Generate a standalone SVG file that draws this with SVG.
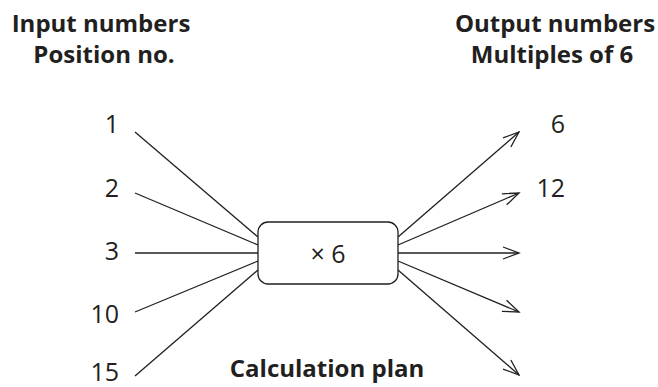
<svg xmlns="http://www.w3.org/2000/svg" width="658" height="387" viewBox="0 0 658 387">
<style>
.h{font-family:"Open Sans","Liberation Sans",sans-serif;font-weight:700;font-size:24px;fill:#231f20;text-anchor:middle}
.n{font-family:"Open Sans","Liberation Sans",sans-serif;font-size:25px;fill:#231f20}
.c{stroke:#231f20;stroke-width:1.3;fill:none}
</style>
<defs>
<marker id="arr" markerUnits="userSpaceOnUse" markerWidth="20" markerHeight="16" viewBox="-18 -8 20 16" refX="0" refY="0" orient="auto">
<path d="M-16,-6 L0,0 L-16,6" fill="none" stroke="#231f20" stroke-width="1.3"/>
</marker>
</defs>
<rect width="658" height="387" fill="#fff"/>
<g id="headings">
<text class="h" x="101" y="32">Input numbers</text>
<text class="h" x="104" y="63">Position no.</text>
<text class="h" x="555" y="32">Output numbers</text>
<text class="h" x="552" y="63">Multiples of 6</text>
</g>
<g id="connectors" class="c">
<line x1="135" y1="132" x2="258" y2="237"/>
<line x1="135" y1="193" x2="258" y2="245"/>
<line x1="135" y1="253" x2="258" y2="253"/>
<line x1="135" y1="312" x2="258" y2="261"/>
<line x1="135" y1="376" x2="258" y2="270"/>
<line x1="398" y1="237" x2="519" y2="132" marker-end="url(#arr)"/>
<line x1="398" y1="245" x2="519" y2="193" marker-end="url(#arr)"/>
<line x1="398" y1="253" x2="519" y2="253" marker-end="url(#arr)"/>
<line x1="398" y1="261" x2="519" y2="312" marker-end="url(#arr)"/>
<line x1="398" y1="270" x2="519" y2="375" marker-end="url(#arr)"/>
</g>
<g id="inputs" class="n" text-anchor="end">
<text x="119" y="133">1</text>
<text x="119" y="197">2</text>
<text x="119" y="260">3</text>
<text x="119" y="323">10</text>
<text x="119" y="381">15</text>
</g>
<g id="outputs" class="n" text-anchor="end">
<text x="565" y="133">6</text>
<text x="565" y="197">12</text>
</g>
<g id="plan">
<rect x="258" y="222" width="140" height="62" rx="10" ry="10" fill="#fff" stroke="#231f20" stroke-width="1.3"/>
<text class="n" x="328" y="263" text-anchor="middle" font-size="24">× 6</text>
</g>
<g id="plan-label">
<text class="h" x="327" y="377">Calculation plan</text>
</g>
</svg>
